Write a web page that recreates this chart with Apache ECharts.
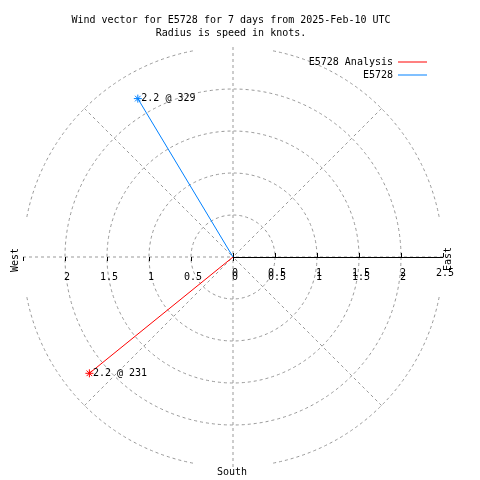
<!DOCTYPE html>
<html><head><meta charset="utf-8">
<script src="https://cdn.jsdelivr.net/npm/echarts@6/dist/echarts.min.js"></script>
<style>html,body{margin:0;padding:0;background:#fff}#c{width:480px;height:480px}</style>
</head><body><div id="c"></div>
<script>
// ---- data ----
const seriesNames = ['E5728 Analysis', 'E5728'];
const speeds = [2.2, 2.2];          // knots
const directions = [231, 329];      // degrees (compass)
const radiusTicks = [0, 0.5, 1, 1.5, 2, 2.5];
const compassLabels = ['East', 'South', 'West'];
const titleLines = ['Wind vector for E5728 for 7 days from 2025-Feb-10 UTC', 'Radius is speed in knots.'];

// ---- style ----
const lineColors = ['#ff0000', '#0080ff'];
const FONT = 'DejaVu Sans Mono';
const FS = 10;
const CX = 233, CY = 257, R = 210;
const GRID = '#999999';
const DASH = [3, 3];
const rMin = radiusTicks[0], rMax = radiusTicks[radiusTicks.length - 1], rStep = radiusTicks[1] - radiusTicks[0];
const STAR = 'path://M0 5 L10 5 M5 0 L5 10 M1.5 1.5 L8.5 8.5 M8.5 1.5 L1.5 8.5';

const chart = echarts.init(document.getElementById('c'), null, {renderer: 'canvas'});

function angleAx(polarIndex, startAngle, clockwise, extra) {
  return Object.assign({polarIndex, startAngle, clockwise, min: 0, max: 360, interval: 45,
    axisLine: {show: false}, axisTick: {show: false}, axisLabel: {show: false},
    splitLine: {show: false}, splitArea: {show: false}}, extra || {});
}
function radiusAx(polarIndex, extra) {
  return Object.assign({polarIndex, type: 'value', min: rMin, max: rMax, interval: rStep,
    axisLine: {show: false}, axisTick: {show: false}, axisLabel: {show: false},
    splitLine: {show: false}, splitArea: {show: false}}, extra || {});
}
const lblBase = {color: '#000', fontFamily: FONT, fontSize: FS, padding: [0, 0, 0, 4]};

const polars = [0, 1, 2, 3, 4].map(() => ({center: [CX, CY], radius: R}));

const angleAxes = [
  angleAx(0, 90, true),
  angleAx(1, 0, false, {splitLine: {show: true, lineStyle: {color: GRID, width: 1, type: DASH}}}),
  angleAx(2, 0, false),
  angleAx(3, 180, false),
  angleAx(4, 180, false)
];
const circleColors = radiusTicks.map((t, i) => (i === 0 || i === radiusTicks.length - 1) ? 'rgba(0,0,0,0)' : GRID);
const radiusAxes = [
  radiusAx(0),
  radiusAx(1, {z: 4,
    axisLine: {show: true, lineStyle: {color: '#000', width: 1}},
    axisTick: {show: true, inside: true, length: 4, lineStyle: {color: '#000'}},
    axisLabel: Object.assign({show: true, margin: -21, showMinLabel: true, showMaxLabel: true}, lblBase),
    splitLine: {show: true, lineStyle: {color: circleColors, width: 1, type: DASH}}}),
  radiusAx(2, {z: 4,
    axisTick: {show: true, length: 3, lineStyle: {color: '#000'}},
    axisLabel: Object.assign({show: true, margin: -25, showMinLabel: false, showMaxLabel: false}, lblBase)}),
  radiusAx(3, {z: 4,
    axisTick: {show: true, length: 3, lineStyle: {color: '#000'}},
    axisLabel: Object.assign({show: true, margin: 15, showMinLabel: true, showMaxLabel: false}, lblBase)}),
  radiusAx(4, {z: 4,
    axisTick: {show: true, inside: true, length: 4, lineStyle: {color: '#000'}}})
];

const series = seriesNames.map((name, i) => ({
  type: 'line', name, coordinateSystem: 'polar', polarIndex: 0,
  symbol: STAR, symbolSize: 8, z: 6,
  itemStyle: {color: lineColors[i], borderColor: lineColors[i], borderWidth: 1},
  lineStyle: {color: lineColors[i], width: 1},
  data: [
    {value: [0, directions[i]], symbol: 'none'},
    {value: [speeds[i], directions[i]],
     label: Object.assign({show: true, position: 'right', distance: -1,
       formatter: speeds[i] + ' @ ' + directions[i]}, lblBase, {padding: 0})}
  ]
}));

// outer circle drawn as four arcs (clipped near the axes)
const gap = 11;
const arcs = [0, 1, 2, 3].map(q => ({
  type: 'arc', silent: true,
  shape: {cx: CX, cy: CY, r: R, startAngle: -(q * 90 + 90 - gap) * Math.PI / 180,
          endAngle: -(q * 90 + gap) * Math.PI / 180, clockwise: true},
  style: {stroke: GRID, fill: null, lineWidth: 1, lineDash: DASH}
}));
const compassTexts = [
  {type: 'text', x: 448, y: 259, rotation: Math.PI / 2,
   style: {text: compassLabels[0], font: FS + 'px ' + FONT, fill: '#000', align: 'center', verticalAlign: 'middle'}},
  {type: 'text', x: 232, y: 472,
   style: {text: compassLabels[1], font: FS + 'px ' + FONT, fill: '#000', align: 'center', verticalAlign: 'middle'}},
  {type: 'text', x: 15, y: 260, rotation: Math.PI / 2,
   style: {text: compassLabels[2], font: FS + 'px ' + FONT, fill: '#000', align: 'center', verticalAlign: 'middle'}}
];

const legendBase = {orient: 'vertical', align: 'right', right: 53, icon: 'rect', itemWidth: 29, itemHeight: 1,
  itemStyle: {borderWidth: 0}, padding: 0, itemGap: 0, selectedMode: false,
  textStyle: {color: '#000', fontFamily: FONT, fontSize: FS}};

chart.setOption({
  animation: false,
  backgroundColor: '#fff',
  title: {text: titleLines.join('\n'), left: 231, top: 14, textAlign: 'center', textVerticalAlign: 'top', padding: 0,
    textStyle: {color: '#000', fontFamily: FONT, fontSize: FS, fontWeight: 'normal', lineHeight: 13}},
  legend: [
    Object.assign({data: [seriesNames[0]], top: 57}, legendBase),
    Object.assign({data: [seriesNames[1]], top: 70}, legendBase)
  ],
  polar: polars,
  angleAxis: angleAxes,
  radiusAxis: radiusAxes,
  series,
  graphic: arcs.concat(compassTexts)
});
</script></body></html>
